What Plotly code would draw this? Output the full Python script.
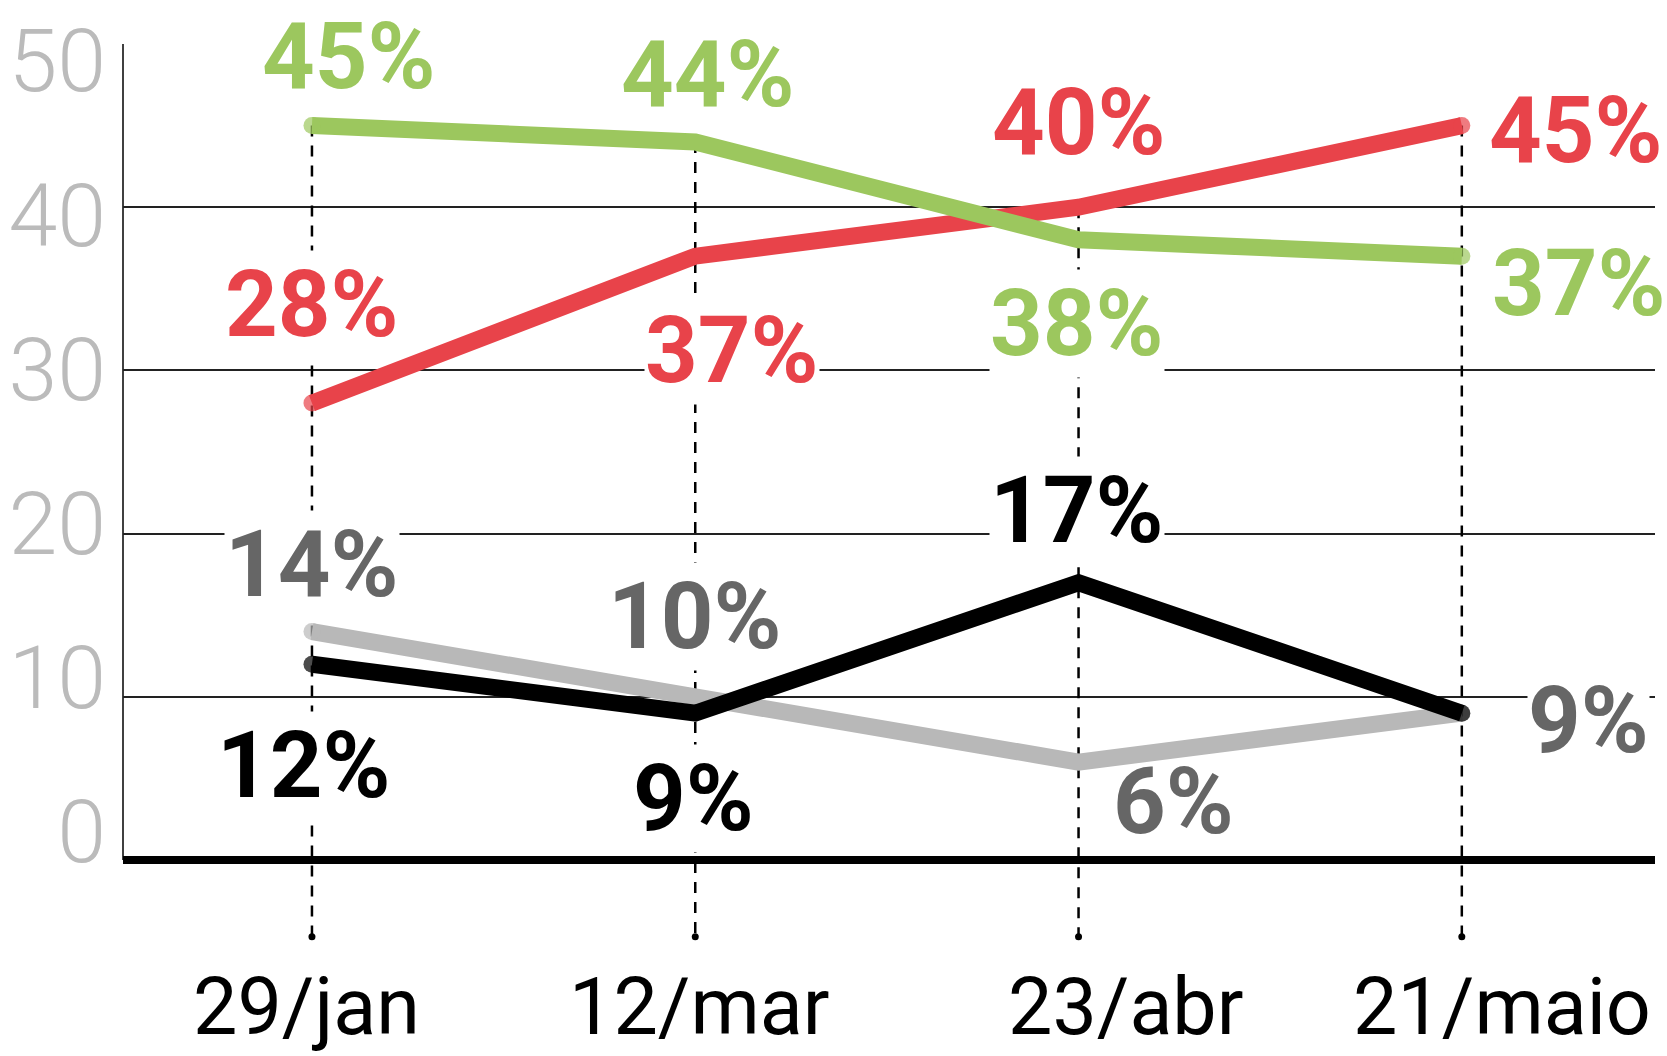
import plotly.graph_objects as go

# Survey dates (x categories) and vote-intention series, in %
DATES = ["29/jan", "12/mar", "23/abr", "21/maio"]
RED = [28, 37, 40, 45]
GREEN = [45, 44, 38, 37]
GRAY = [14, 10, 6, 9]
BLACK = [12, 9, 17, 9]
Y_TICKS = [0, 10, 20, 30, 40, 50]

# Styling per series
STYLE = {
    "red": dict(line="#e8434a", text="#e8434a"),
    "green": dict(line="#9cc75e", text="#9cc75e"),
    "gray": dict(line="#b8b8b8", text="#666666"),
    "black": dict(line="#000000", text="#000000"),
}
SERIES = [("red", RED), ("green", GREEN), ("gray", GRAY), ("black", BLACK)]

# Label placement relative to each point: (xshift px, yshift px, white background)
LABEL_POS = {
    "red": [(0, 99, True), (37, -94, True), (0, 85, True), (114, -5, True)],
    "green": [(37, 69, True), (13, 67, True), (-2, -84, True), (117, -27, False)],
    "gray": [(0, 67, True), (0, 80, True), (95, -39, False), (127, -7, True)],
    "black": [(-8, -101, True), (-2, -85, True), (-2, 72, True), None],
}
# horizontal nudge of each date label under its guide line
DATE_LABEL_SHIFT = [-5, 4, 47, 40]

LINE_W = 17
DROP_END = -4.7  # where the dashed guide lines stop below the baseline

fig = go.Figure()

# dashed guides from the highest reading down below the axis
for i, d in enumerate(DATES):
    top = max(s[i] for _, s in SERIES)
    fig.add_trace(go.Scatter(
        x=[d, d], y=[top, DROP_END], mode="lines",
        line=dict(color="black", width=2.5, dash="11px,9px"),
        hoverinfo="skip", showlegend=False,
    ))
fig.add_trace(go.Scatter(
    x=DATES, y=[DROP_END] * len(DATES), mode="markers",
    marker=dict(color="black", size=7), hoverinfo="skip", showlegend=False,
))

# the four series; round dots only at both ends give rounded line caps
end_sizes = [LINE_W] + [0] * (len(DATES) - 2) + [LINE_W]
for name, values in SERIES:
    c = STYLE[name]["line"]
    fig.add_trace(go.Scatter(
        x=DATES, y=values, mode="lines+markers",
        line=dict(color=c, width=LINE_W),
        marker=dict(color=c, size=end_sizes, line=dict(width=0)),
        showlegend=False, hoverinfo="skip",
    ))

# carrier trace for the left tick-label axis
fig.add_trace(go.Scatter(x=DATES, y=[None] * len(DATES), yaxis="y2",
                         mode="lines", showlegend=False, hoverinfo="skip"))

# value labels
for name, values in SERIES:
    for i, v in enumerate(values):
        pos = LABEL_POS[name][i]
        if pos is None:
            continue
        dx, dy, bg = pos
        fig.add_annotation(
            x=DATES[i], y=v, xref="x", yref="y", showarrow=False,
            xshift=dx, yshift=dy, xanchor="center", yanchor="middle",
            text=f"{v}%",
            font=dict(family="Roboto", size=92, color=STYLE[name]["text"], weight=700),
            bgcolor="white" if bg else "rgba(0,0,0,0)", borderpad=0,
        )

# date labels below the guides
for d, dx in zip(DATES, DATE_LABEL_SHIFT):
    fig.add_annotation(
        x=d, y=0, xref="x", yref="paper", showarrow=False,
        xshift=dx, yshift=-49, xanchor="center", yanchor="middle",
        text=d, font=dict(family="Roboto", size=79, color="black"),
    )

# vertical axis line from 0 to 50
fig.add_shape(type="line", xref="paper", x0=0, x1=0, yref="y",
              y0=min(Y_TICKS), y1=max(Y_TICKS),
              line=dict(color="black", width=1.5), layer="below")

fig.update_layout(
    width=1667, height=1056,
    margin=dict(l=123, r=12, t=44, b=98, autoexpand=False),
    plot_bgcolor="white", paper_bgcolor="white",
    showlegend=False,
    xaxis=dict(
        type="category", categoryorder="array", categoryarray=DATES,
        range=[-0.493, 3.504], showgrid=False, zeroline=False, showline=False,
        ticks="", showticklabels=False, automargin=False,
    ),
    yaxis=dict(
        range=[-6, 50], tickvals=Y_TICKS, showticklabels=False,
        showgrid=True, gridcolor="#222222", gridwidth=1.5,
        zeroline=True, zerolinecolor="black", zerolinewidth=8, showline=False,
        automargin=False,
    ),
    yaxis2=dict(
        overlaying="y", side="left", range=[-8.19, 51.07], tickvals=Y_TICKS,
        showgrid=False, zeroline=False, showline=False, ticks="",
        tickfont=dict(family="Roboto", size=88, color="#bbbbbb", weight=300),
        ticklabelstandoff=16, automargin=False,
    ),
)

fig.write_html("out.html")
